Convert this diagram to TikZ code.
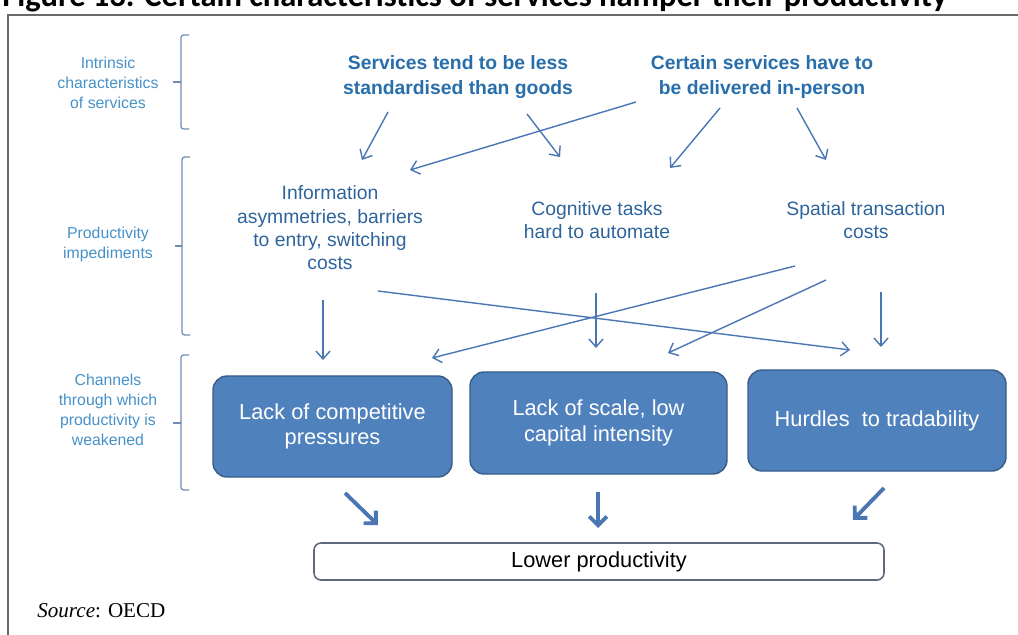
\documentclass[tikz,border=0pt]{standalone}
\usepackage{fontspec}
\setmainfont{Liberation Sans}
\newfontfamily\titlefont{Carlito}
\newfontfamily\srcfont{Liberation Serif}
\usetikzlibrary{arrows.meta}
\definecolor{frameGray}{RGB}{105,105,105}
\definecolor{labelBlue}{RGB}{70,145,200}
\definecolor{headBlue}{RGB}{40,110,170}
\definecolor{textBlue}{RGB}{45,100,155}
\definecolor{arrowBlue}{RGB}{74,118,180}
\definecolor{boxBlue}{RGB}{79,129,189}
\definecolor{boxEdge}{RGB}{56,93,138}
\definecolor{braceBlue}{RGB}{110,140,180}
\definecolor{lowEdge}{RGB}{95,105,125}

\begin{document}
\begin{tikzpicture}[x=0.2mm,y=-0.2mm,
    level/.style={align=center,text=labelBlue,font=\fontsize{9}{11.3}\selectfont},
    heading/.style={align=center,text=headBlue,font=\bfseries\fontsize{11}{14.2}\selectfont},
    impediment/.style={align=center,text=textBlue,font=\fontsize{11}{13.3}\selectfont},
    channel/.style={draw=boxEdge,line width=0.8pt,fill=boxBlue,rounded corners=8pt,
        text=white,align=center,inner sep=0pt,font=\fontsize{12.4}{14.5}\selectfont},
    bracket/.style={draw=braceBlue,line width=0.7pt,rounded corners=1.5pt},
    arr/.style={draw=arrowBlue,line width=0.8pt,-{Straight Barb[length=4.5pt,width=8pt]}},
    bigarr/.style={draw=arrowBlue,line width=2.2pt,-{Straight Barb[length=5pt,width=10pt]}}]
    \useasboundingbox (0,0) rectangle (1018,635);
    \clip (0,0) rectangle (1018,635);
    % title (cut at the top) and frame
    \node[anchor=base west,inner sep=0pt] (title) at (2,7)
        {\titlefont\bfseries\fontsize{18.5}{21}\selectfont Figure 13. Certain characteristics of services hamper their productivity};
    \draw[frameGray,line width=1pt] (8,635) -- (8,15) -- (1018,15);

    % left hand levels
    \node[level] (intr) at (108,83) {Intrinsic\\characteristics\\of services};
    \node[level] (impd) at (108,244) {Productivity\\impediments};
    \node[level] (chan) at (108,410) {Channels\\through which\\productivity is\\weakened};
    \draw[bracket] (189,35) -- (181,35) -- (181,129) -- (189,129);
    \draw[bracket] (173,82) -- (181,82);
    \draw[bracket] (190,157) -- (182,157) -- (182,335) -- (190,335);
    \draw[bracket] (175,246) -- (182,246);
    \draw[bracket] (189,355) -- (181,355) -- (181,490) -- (189,490);
    \draw[bracket] (173,423) -- (181,423);

    % characteristics
    \node[heading] (serv) at (458,77) {Services tend to be less\\standardised than goods};
    \node[heading] (cert) at (762,77) {Certain services have to\\be delivered in-person};

    % impediments
    \node[impediment] (info) at (330,228) {Information\\asymmetries, barriers\\to entry, switching\\costs};
    \node[impediment] (cogn) at (597,220) {Cognitive tasks\\hard to automate};
    \node[impediment] (spat) at (866,220) {Spatial transaction\\costs};

    % channels
    \node[channel,minimum width=47.8mm,minimum height=20.2mm] (comp) at (332.5,426.5) {Lack of competitive\\pressures};
    \node[channel,minimum width=51.4mm,minimum height=20.4mm] (scal) at (598.5,423) {Lack of scale, low\\capital intensity};
    \node[channel,minimum width=51.6mm,minimum height=20.2mm] (trad) at (877,420.5) {Hurdles\ \ to tradability};

    \node[draw=lowEdge,line width=0.9pt,rounded corners=4pt,fill=white,inner sep=0pt,
        minimum width=114mm,minimum height=7.4mm,font=\fontsize{12.4}{14.5}\selectfont] (lowp) at (599,561.5) {Lower productivity};

    \node[anchor=west,inner sep=0pt] (src) at (37,611)
        {\srcfont\fontsize{12}{14}\selectfont\textit{Source}: OECD};

    % characteristics -> impediments
    \draw[arr] ([shift={(-70,35)}]serv.center) -- ([shift={(32,-68)}]info.center);
    \draw[arr] ([shift={(69,37)}]serv.center) -- ([shift={(-37,-63)}]cogn.center);
    \draw[arr] ([shift={(-126,25)}]cert.center) -- ([shift={(80,-58)}]info.center);
    \draw[arr] ([shift={(-42,31)}]cert.center) -- ([shift={(73,-52)}]cogn.center);
    \draw[arr] ([shift={(35,31)}]cert.center) -- ([shift={(-40,-60)}]spat.center);

    % impediments -> channels
    \draw[arr] ([shift={(-7,72)}]info.center) -- ([shift={(-9.5,-66.5)}]comp.center);
    \draw[arr] ([shift={(48,63)}]info.center) -- ([shift={(-27,-70.5)}]trad.center);
    \draw[arr] ([shift={(-1,73)}]cogn.center) -- ([shift={(-2.5,-75)}]scal.center);
    \draw[arr] ([shift={(-71,46)}]spat.center) -- ([shift={(99.5,-68.5)}]comp.center);
    \draw[arr] ([shift={(-40,60)}]spat.center) -- ([shift={(69.5,-70)}]scal.center);
    \draw[arr] ([shift={(15,72)}]spat.center) -- ([shift={(4,-73.5)}]trad.center);

    % channels -> lower productivity
    \draw[bigarr] ([shift={(12.5,66.5)}]comp.center) -- ([shift={(-221,-36.5)}]lowp.center);
    \draw[bigarr] ([shift={(-0.5,69)}]scal.center) -- ([shift={(-1,-33.5)}]lowp.center);
    \draw[bigarr] ([shift={(7,67.5)}]trad.center) -- ([shift={(254,-41.5)}]lowp.center);
\end{tikzpicture}
\end{document}
